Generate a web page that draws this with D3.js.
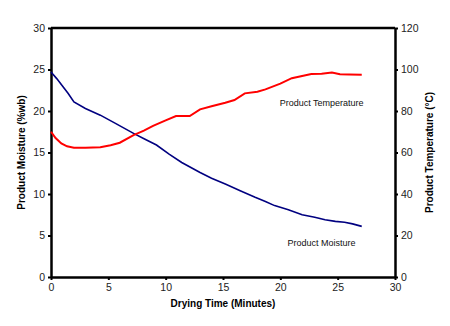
<!DOCTYPE html>
<html>
<head>
<meta charset="utf-8">
<script src="https://cdn.jsdelivr.net/npm/d3@7"></script>
<style>
  body { margin: 0; background: #fff; }
  text { font-family: "Liberation Sans", Arial, sans-serif; }
</style>
</head>
<body>
<div id="chart-area"></div>
<script>
// data
const moistTime = [0, 0.5, 1, 1.5, 2, 3, 4.3, 5.5, 7.2, 8.2, 9.2, 10.3, 11.4, 12.2, 13, 14, 15.2, 16.5, 17.8, 18.7, 19.5, 20.7, 21.9, 23, 23.9, 24.8, 25.6, 26.3, 27.1]
const moisture = [24.7, 23.9, 23, 22.1, 21.1, 20.3, 19.5, 18.6, 17.3, 16.6, 15.9, 14.8, 13.8, 13.2, 12.6, 11.9, 11.2, 10.4, 9.6, 9.1, 8.6, 8.1, 7.5, 7.2, 6.9, 6.7, 6.6, 6.4, 6.1]
const tempTime = [0, 0.4, 0.9, 1.4, 2, 3, 4.3, 5.2, 6, 7.2, 8.1, 8.9, 10, 10.9, 12.1, 13, 14, 15.2, 16, 16.9, 18, 18.7, 20, 21, 22, 22.7, 23.6, 24.5, 25.2, 26, 27.1]
const temperature = [70, 67, 64.4, 63, 62.3, 62.3, 62.5, 63.5, 64.7, 68.4, 70.5, 72.8, 75.5, 77.6, 77.6, 80.8, 82.3, 84, 85.3, 88.5, 89.3, 90.4, 93.2, 95.8, 97, 97.8, 98, 98.6, 97.7, 97.6, 97.5]
const xTicks = [0, 5, 10, 15, 20, 25, 30]
const yLeftTicks = [0, 5, 10, 15, 20, 25, 30]
const yRightTicks = [0, 20, 40, 60, 80, 100, 120]

const MARGIN = { LEFT: 51, RIGHT: 55, TOP: 28, BOTTOM: 49 }
const WIDTH = 450 - MARGIN.LEFT - MARGIN.RIGHT
const HEIGHT = 326 - MARGIN.TOP - MARGIN.BOTTOM

const svg = d3.select("#chart-area").append("svg")
  .attr("width", 450)
  .attr("height", 326)

const g = svg.append("g")
  .attr("transform", `translate(${MARGIN.LEFT}, ${MARGIN.TOP})`)

// Scales
const x = d3.scaleLinear().domain([0, 30]).range([0, WIDTH])
const yL = d3.scaleLinear().domain([0, 30]).range([HEIGHT, 0])
const yR = d3.scaleLinear().domain([0, 120]).range([HEIGHT, 0])

function styleAxis(sel) {
  sel.select(".domain").attr("stroke", "#000").attr("stroke-width", 2.5)
  sel.selectAll(".tick line").attr("stroke", "#000").attr("stroke-width", 2)
  sel.selectAll(".tick text")
    .attr("font-size", "10.5px")
    .attr("fill", "#222")
    .style("font-family", "'Liberation Sans', Arial, sans-serif")
}

// top border
g.append("line")
  .attr("x1", 0).attr("x2", WIDTH)
  .attr("y1", 0).attr("y2", 0)
  .attr("stroke", "#000").attr("stroke-width", 2.5)

// X Axis
g.append("g")
  .attr("transform", `translate(0, ${HEIGHT})`)
  .call(d3.axisBottom(x).tickValues(xTicks).tickSize(3).tickSizeOuter(0).tickPadding(4))
  .call(styleAxis)

// Left Y Axis
g.append("g")
  .call(d3.axisLeft(yL).tickValues(yLeftTicks).tickSize(3).tickSizeOuter(0).tickPadding(3))
  .call(styleAxis)

// Right Y Axis
g.append("g")
  .attr("transform", `translate(${WIDTH}, 0)`)
  .call(d3.axisRight(yR).tickValues(yRightTicks).tickSize(3).tickSizeOuter(0).tickPadding(3))
  .call(styleAxis)

// Lines
const moistLine = d3.line()
  .x((d, i) => x(moistTime[i]))
  .y(d => yL(d))
const tempLine = d3.line()
  .x((d, i) => x(tempTime[i]))
  .y(d => yR(d))

g.append("path")
  .datum(moisture)
  .attr("fill", "none")
  .attr("stroke", "#000080")
  .attr("stroke-width", 1.6)
  .attr("d", moistLine)

g.append("path")
  .datum(temperature)
  .attr("fill", "none")
  .attr("stroke", "#ff0000")
  .attr("stroke-width", 2)
  .attr("d", tempLine)

// Labels
g.append("text")
  .attr("x", x(23.6))
  .attr("y", yR(82.5))
  .attr("text-anchor", "middle")
  .attr("font-size", "9px")
  .attr("fill", "#111")
  .text("Product Temperature")

g.append("text")
  .attr("x", x(23.6))
  .attr("y", yL(3.7))
  .attr("text-anchor", "middle")
  .attr("font-size", "9px")
  .attr("fill", "#111")
  .text("Product Moisture")

// Axis titles
g.append("text")
  .attr("x", WIDTH / 2)
  .attr("y", HEIGHT + 30)
  .attr("text-anchor", "middle")
  .attr("font-size", "10px")
  .attr("font-weight", "bold")
  .text("Drying Time (Minutes)")

g.append("text")
  .attr("transform", "rotate(-90)")
  .attr("x", -HEIGHT / 2)
  .attr("y", -26)
  .attr("text-anchor", "middle")
  .attr("font-size", "10px")
  .attr("font-weight", "bold")
  .text("Product Moisture (%wb)")

g.append("text")
  .attr("transform", "rotate(-90)")
  .attr("x", -HEIGHT / 2)
  .attr("y", WIDTH + 38)
  .attr("text-anchor", "middle")
  .attr("font-size", "10px")
  .attr("font-weight", "bold")
  .text("Product Temperature (°C)")
</script>
</body>
</html>
